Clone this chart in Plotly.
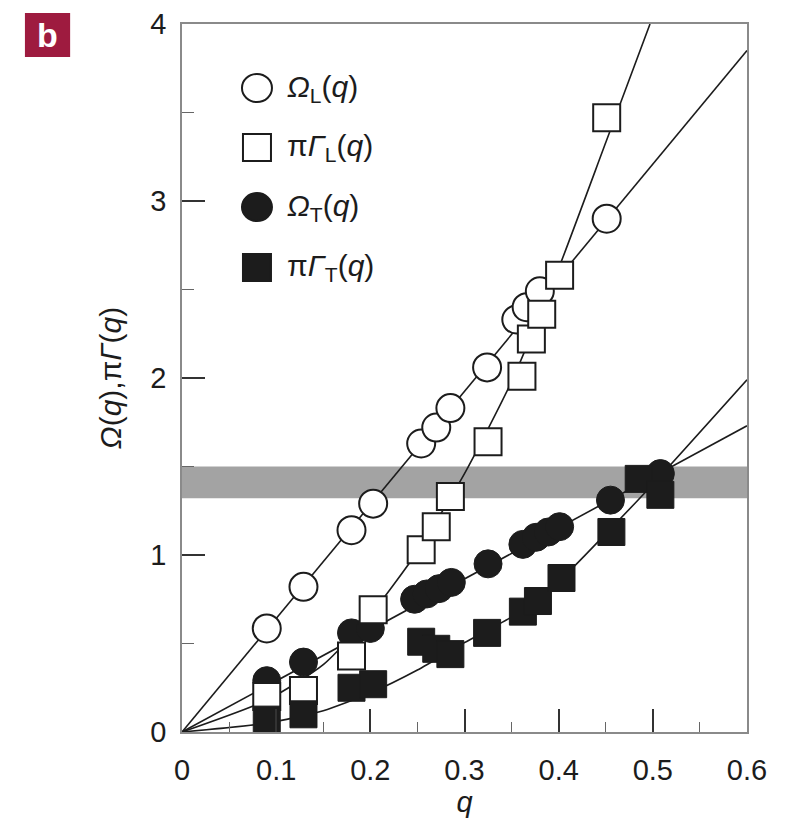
import plotly.graph_objects as go

# ---- data ----
q_OmL = [0.090, 0.129, 0.180, 0.203, 0.254, 0.270, 0.285, 0.324, 0.355, 0.366, 0.380, 0.451]
OmL   = [0.585, 0.820, 1.140, 1.290, 1.630, 1.720, 1.830, 2.060, 2.330, 2.400, 2.490, 2.900]

q_GamL = [0.090, 0.129, 0.180, 0.203, 0.254, 0.270, 0.285, 0.325, 0.361, 0.371, 0.382, 0.401, 0.451]
GamL   = [0.200, 0.235, 0.430, 0.690, 1.030, 1.160, 1.330, 1.640, 2.010, 2.220, 2.360, 2.580, 3.470]

q_OmT = [0.090, 0.129, 0.180, 0.200, 0.247, 0.260, 0.273, 0.286, 0.325, 0.362, 0.376, 0.389, 0.401, 0.455, 0.508]
OmT   = [0.290, 0.395, 0.560, 0.585, 0.750, 0.780, 0.810, 0.845, 0.950, 1.060, 1.100, 1.130, 1.160, 1.310, 1.460]

q_GamT = [0.090, 0.129, 0.180, 0.203, 0.254, 0.270, 0.285, 0.324, 0.362, 0.378, 0.403, 0.456, 0.485, 0.508]
GamT   = [0.070, 0.100, 0.250, 0.270, 0.510, 0.470, 0.440, 0.560, 0.680, 0.740, 0.870, 1.130, 1.430, 1.340]

# fitted curves
fit_q_OmL = [0.0, 0.6]
fit_OmL   = [0.0, 3.85]
fit_q_GamL = [0.0, 0.09, 0.15, 0.20, 0.25, 0.30, 0.35, 0.40, 0.45, 0.497]
fit_GamL   = [0.0, 0.18, 0.38, 0.66, 1.02, 1.46, 1.98, 2.62, 3.33, 4.00]
fit_q_OmT = [0.0, 0.6]
fit_OmT   = [0.0, 1.73]
fit_q_GamT = [0.0, 0.09, 0.15, 0.20, 0.25, 0.30, 0.35, 0.40, 0.45, 0.50, 0.60]
fit_GamT   = [0.0, 0.05, 0.12, 0.22, 0.35, 0.505, 0.65, 0.85, 1.12, 1.40, 1.99]

band_low, band_high = 1.32, 1.50

x_ticks = [0, 0.1, 0.2, 0.3, 0.4, 0.5, 0.6]
x_ticklabels = ["0", "0.1", "0.2", "0.3", "0.4", "0.5", "0.6"]
y_ticks = [0, 1, 2, 3, 4]
y_ticklabels = ["0", "1", "2", "3", "4"]

legend_labels = [
    "<i>Ω</i><sub>L</sub>(<i>q</i>)",
    "π<i>Γ</i><sub>L</sub>(<i>q</i>)",
    "<i>Ω</i><sub>T</sub>(<i>q</i>)",
    "π<i>Γ</i><sub>T</sub>(<i>q</i>)",
]

FONT = "Liberation Sans, Arial, Helvetica, sans-serif"
INK = "#1c1c1c"

fig = go.Figure()

line_style = dict(color=INK, width=1.6)
for fq, fv in [(fit_q_OmL, fit_OmL), (fit_q_GamL, fit_GamL), (fit_q_OmT, fit_OmT), (fit_q_GamT, fit_GamT)]:
    fig.add_trace(go.Scatter(x=fq, y=fv, mode="lines", line=dict(shape="spline", smoothing=0.6, **line_style),
                             showlegend=False, hoverinfo="skip"))

MS = 28
fig.add_trace(go.Scatter(x=q_OmL, y=OmL, mode="markers", name="ΩL",
                         marker=dict(symbol="circle", size=MS, color="white", line=dict(color=INK, width=2)),
                         showlegend=False, cliponaxis=False))
fig.add_trace(go.Scatter(x=q_OmT, y=OmT, mode="markers", name="ΩT",
                         marker=dict(symbol="circle", size=MS, color=INK, line=dict(color=INK, width=1)),
                         showlegend=False, cliponaxis=False))
fig.add_trace(go.Scatter(x=q_GamL, y=GamL, mode="markers", name="πΓL",
                         marker=dict(symbol="square", size=MS - 1, color="white", line=dict(color=INK, width=2)),
                         showlegend=False, cliponaxis=False))
fig.add_trace(go.Scatter(x=q_GamT, y=GamT, mode="markers", name="πΓT",
                         marker=dict(symbol="square", size=MS - 1, color=INK, line=dict(color=INK, width=1)),
                         showlegend=False, cliponaxis=False))

# grey band
fig.add_shape(type="rect", xref="x domain", yref="y", x0=0, x1=1, y0=band_low, y1=band_high,
              fillcolor="#a3a3a3", line=dict(width=0), layer="below")

# manual legend (large symbols)
leg_x = 0.1327
leg_ys = [0.9096, 0.8249, 0.7415, 0.6554]
leg_syms = [("circle", "white"), ("rect", "white"), ("circle", INK), ("rect", INK)]
for (sym, fill), ly, lab in zip(leg_syms, leg_ys, legend_labels):
    half = 15 if sym == "circle" else 14
    fig.add_shape(type=sym, xref="paper", yref="paper", xsizemode="pixel", ysizemode="pixel",
                  xanchor=leg_x, yanchor=ly, x0=-half, x1=half, y0=-half + 1, y1=half - 1 if sym == "circle" else half,
                  fillcolor=fill, line=dict(color=INK, width=2), layer="above")
    fig.add_annotation(xref="paper", yref="paper", x=0.182, y=ly, text=lab, showarrow=False,
                       xanchor="left", yanchor="middle", font=dict(family=FONT, size=30, color=INK))

# panel label "b"
fig.add_shape(type="rect", xref="paper", yref="paper", x0=-0.278, x1=-0.198, y0=0.9534, y1=1.0155,
              fillcolor="#9e1b3f", line=dict(width=0), layer="above")
fig.add_annotation(xref="paper", yref="paper", x=-0.238, y=0.9845, text="<b>b</b>", showarrow=False,
                   xanchor="center", yanchor="middle", font=dict(family=FONT, size=34, color="white"))

axis_common = dict(
    showgrid=False, zeroline=False, showline=True, linecolor="#8a8a8a", linewidth=1.5, mirror=True,
    ticks="inside", ticklen=23, tickwidth=1.5, tickcolor="#333",
    tickfont=dict(family=FONT, size=29, color=INK),
)
fig.update_xaxes(range=[0, 0.6], tickvals=x_ticks, ticktext=x_ticklabels,
                 minor=dict(dtick=0.05, ticks="inside", ticklen=10, tickwidth=1.2, tickcolor="#666"),
                 title=dict(text="<i>q</i>", font=dict(family=FONT, size=29, color=INK), standoff=6),
                 ticklabelstandoff=11, **axis_common)
fig.update_yaxes(range=[0, 4], tickvals=y_ticks, ticktext=y_ticklabels,
                 minor=dict(dtick=0.5, ticks="inside", ticklen=12, tickwidth=1.2, tickcolor="#666"),
                 title=dict(text="<i>Ω</i>(<i>q</i>),π<i>Γ</i>(<i>q</i>)", font=dict(family=FONT, size=30, color=INK), standoff=20),
                 ticklabelstandoff=8, **axis_common)

fig.update_layout(width=793, height=820, margin=dict(l=182, r=46, t=24, b=88, autoexpand=False),
                  plot_bgcolor="white", paper_bgcolor="white", showlegend=False)

fig.write_html("out.html")
